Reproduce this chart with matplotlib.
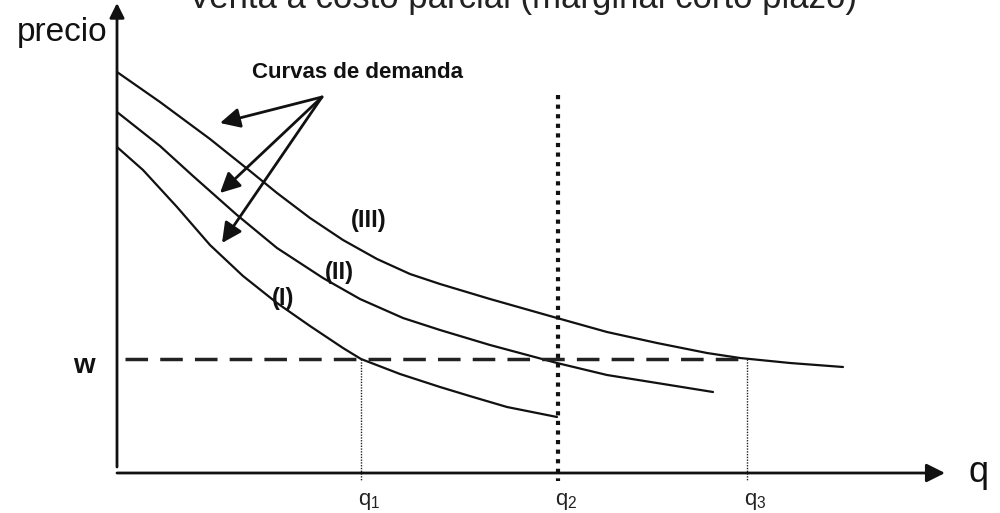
import matplotlib.pyplot as plt

plt.rcParams['font.family'] = ['Liberation Sans', 'DejaVu Sans']
plt.rcParams['mathtext.fontset'] = 'custom'
plt.rcParams['mathtext.rm'] = 'Liberation Sans'
plt.rcParams['mathtext.it'] = 'Liberation Sans'

# curvas de demanda (cantidad, precio)
q_III = [0, 43, 93, 133, 160, 193, 226, 260, 293, 323, 373, 440, 490, 540, 590, 623, 673, 726]
p_III = [401, 371, 334, 302, 280, 255, 233, 214, 199, 189, 174, 155, 141, 130, 120, 115, 110, 106]

q_II = [0, 43, 76, 120, 160, 206, 243, 286, 323, 373, 440, 490, 540, 596]
p_II = [361, 327, 297, 258, 225, 195, 174, 155, 143, 128, 110, 98, 90, 81]

q_I = [0, 26, 60, 93, 126, 160, 193, 226, 244, 283, 323, 356, 390, 440]
p_I = [326, 303, 266, 228, 197, 170, 147, 125, 114, 99, 86, 76, 66, 56]

w = 114
q_vals = [244, 441, 630]
q_labels = ['q$_1$', 'q$_2$', 'q$_3$']
q2_top = 378

fig = plt.figure(figsize=(10, 5.13), dpi=100)
ax = fig.add_axes([0, 0, 1, 1])
ax.set_xlim(-117, 883)
ax.set_ylim(-40, 473)
ax.axis('off')

# ejes con flechas
ax.annotate('', xy=(828, 0), xytext=(0, 0),
            arrowprops=dict(arrowstyle='-|>', lw=2, color='#111', mutation_scale=28,
                            shrinkA=0, shrinkB=0))
ax.annotate('', xy=(0, 470), xytext=(0, 6),
            arrowprops=dict(arrowstyle='-|>', lw=2, color='#111', mutation_scale=22,
                            shrinkA=0, shrinkB=0))

for q, p in [(q_III, p_III), (q_II, p_II), (q_I, p_I)]:
    ax.plot(q, p, color='#111', lw=1.6, solid_joinstyle='round', solid_capstyle='round')

# precio w y cantidades
ax.plot([8, q_vals[2]], [w, w], color='#222', lw=2.5, dashes=(6.5, 3.5))
ax.plot([q_vals[0], q_vals[0]], [w, -8], color='#222', lw=1, ls=(0, (1, 1)))
ax.plot([q_vals[2], q_vals[2]], [w, -8], color='#222', lw=1, ls=(0, (1, 1)))
ax.plot([q_vals[1], q_vals[1]], [q2_top, -8], color='#111', lw=3, ls=(0, (1, 1.3)))

for q, lab in zip(q_vals, q_labels):
    ax.text(q + 8, -28, lab, fontsize=16, ha='center', va='center', color='#222')

ax.text(-22, w - 7, 'w', fontsize=20, fontweight='bold', ha='right', va='center', color='#111')
ax.text(-10, 440, 'precio', fontsize=24, ha='right', va='center', color='#111')
ax.text(862, 0, 'q', fontsize=26, ha='center', va='center', color='#111')
ax.text(405, 465, 'Venta a costo parcial (marginal corto plazo)', fontsize=25,
        ha='center', va='baseline', color='#222')

narrow = ['Liberation Sans Narrow', 'Liberation Sans']
ax.text(252, 253, '(III)', fontsize=17, fontweight='bold', family=narrow,
        ha='center', va='center', color='#111')
ax.text(222, 200, '(II)', fontsize=17, fontweight='bold', family=narrow,
        ha='center', va='center', color='#111')
ax.text(166, 175, '(I)', fontsize=17, fontweight='bold', family=narrow,
        ha='center', va='center', color='#111')

ax.text(240, 400, 'Curvas de demanda', fontsize=16, fontweight='bold',
        ha='center', va='center', color='#111')
for tx, ty in [(103, 350), (103, 280), (105, 230)]:
    ax.annotate('', xy=(tx, ty), xytext=(205, 376),
                arrowprops=dict(arrowstyle='-|>', lw=2, color='#111', mutation_scale=30,
                                shrinkA=0, shrinkB=0))

fig.savefig('out.png', dpi=100, facecolor='white')
